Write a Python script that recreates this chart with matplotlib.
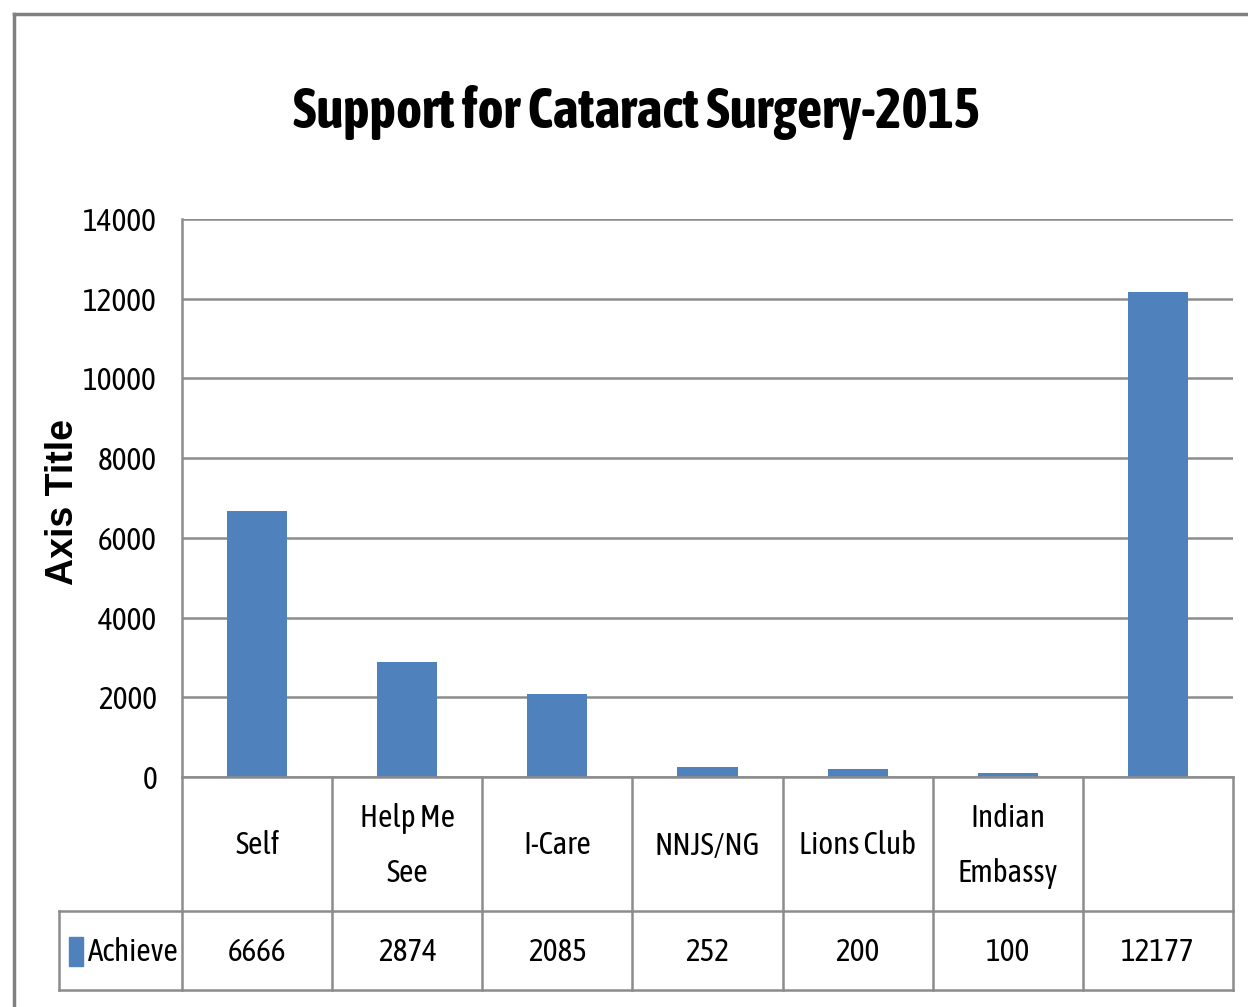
import matplotlib
matplotlib.use("Agg")
import matplotlib.pyplot as plt
from matplotlib.lines import Line2D
from matplotlib.patches import Rectangle

categories = ["Self", "Help Me\nSee", "I-Care", "NNJS/NG", "Lions Club", "Indian\nEmbassy", ""]
values = [6666, 2874, 2085, 252, 200, 100, 12177]
series_name = "Achieve"
title = "Support for Cataract Surgery-2015"
yticks = [0, 2000, 4000, 6000, 8000, 10000, 12000, 14000]

BLUE = "#4F81BD"
GRID = "#8C8C8C"
NARROW = ["Asap Condensed", "Archivo Narrow", "Liberation Sans Narrow", "DejaVu Sans"]
ARIAL = ["Liberation Sans", "Arimo", "DejaVu Sans"]
FS = 22.5

W, H = 1248, 1007
fig = plt.figure(figsize=(W / 100, H / 100), dpi=100)

def fx(px):
    return px / W

def fy(py):
    return 1 - py / H

# outer frame
fig.add_artist(Line2D([fx(14), fx(14)], [fy(14), fy(1007)], color="#808080", lw=2.5, transform=fig.transFigure))
fig.add_artist(Line2D([fx(14), fx(1248)], [fy(14), fy(14)], color="#808080", lw=2.5, transform=fig.transFigure))

L, R, T, B = 182, 1233, 219, 777
ax = fig.add_axes([fx(L), fy(B), fx(R) - fx(L), fy(T) - fy(B)])
n = len(values)
x = list(range(n))
ax.bar(x, values, width=0.4, color=BLUE, zorder=3)
ax.set_xlim(-0.5, n - 0.5)
ax.set_ylim(0, 14000)
ax.set_yticks(yticks)
ax.set_yticklabels([str(v) for v in yticks], family=NARROW, fontsize=FS)
ax.tick_params(axis="y", length=0, pad=18)
ax.set_xticks([])
ax.grid(axis="y", color=GRID, lw=1.8, zorder=0)
for s in ["top", "right", "bottom"]:
    ax.spines[s].set_visible(False)
ax.spines["left"].set_color(GRID)
ax.spines["left"].set_linewidth(1.8)

fig.text(fx(63), fy(502), "Axis Title", rotation=90, ha="center", va="center",
         family=ARIAL, fontweight="bold", fontsize=27)

fig.text(fx(636), fy(112), title, ha="center", va="center", family=NARROW,
         fontweight="bold", fontsize=40)

# data table
row1, row2, row3 = 777, 911, 990
legL = 59
colw = (R - L) / n
tab = fig.add_axes([0, 0, 1, 1], facecolor="none")
tab.set_xlim(0, W)
tab.set_ylim(H, 0)
tab.axis("off")
lc = dict(color=GRID, lw=1.8)
tab.plot([L, R], [row1, row1], **lc)
tab.plot([legL, R], [row2, row2], **lc)
tab.plot([legL, R], [row3, row3], **lc)
tab.plot([legL, legL], [row2, row3], **lc)
for i in range(n + 1):
    xx = L + i * colw
    tab.plot([xx, xx], [row1, row3], **lc)
for i, (c, v) in enumerate(zip(categories, values)):
    cx = L + (i + 0.5) * colw
    tab.text(cx, (row1 + row2) / 2 + 2, c, ha="center", va="center", family=NARROW, fontsize=FS, linespacing=2.0)
    tab.text(cx, (row2 + row3) / 2 + 2, str(v), ha="center", va="center", family=NARROW, fontsize=FS)
tab.add_patch(Rectangle((69, 937), 14, 29, color=BLUE))
tab.text(88, (row2 + row3) / 2 + 2, series_name, ha="left", va="center", family=NARROW, fontsize=FS)

fig.savefig("out.png", dpi=100)
